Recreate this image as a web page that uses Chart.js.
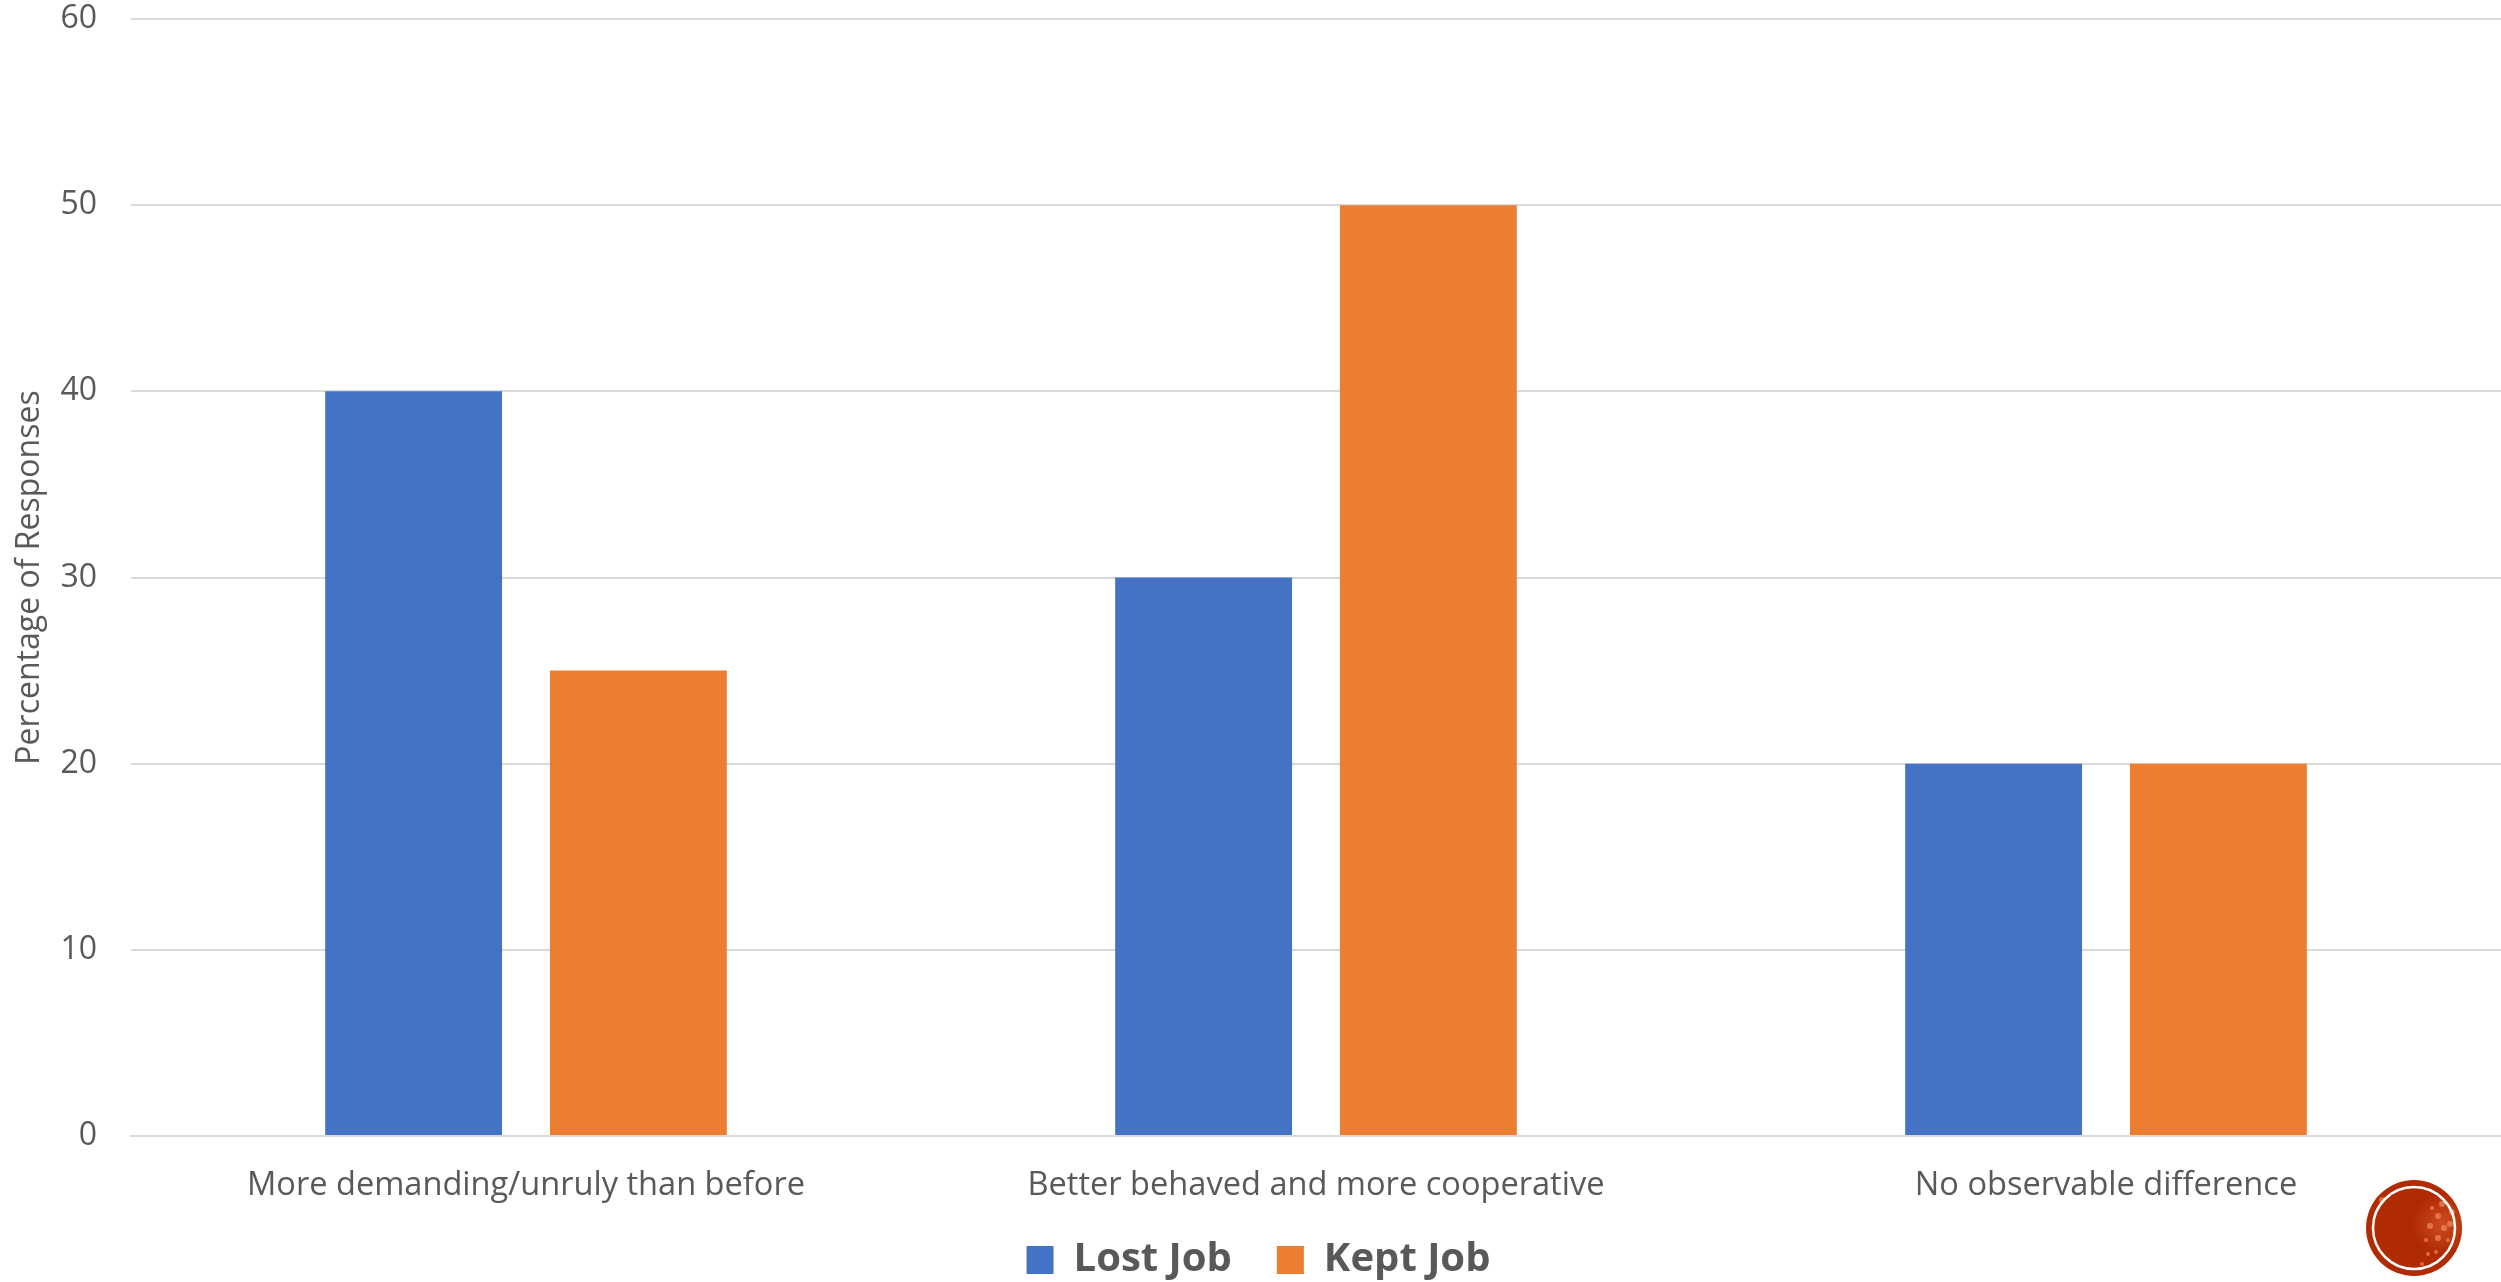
<!DOCTYPE html>
<html>
<head>
<meta charset="utf-8">
<title>Percentage of Responses</title>
<script src="https://cdn.jsdelivr.net/npm/chart.js@4"></script>
<style>
  html, body { margin: 0; padding: 0; background: #fff; }
  canvas { display: block; }
</style>
</head>
<body>
<canvas id="chart" width="2501" height="1282"></canvas>
<script>
// === DATA ===
const categories = [
  'More demanding/unruly than before',
  'Better behaved and more cooperative',
  'No observable difference'
];
const lostJob = [40, 30, 20];
const keptJob = [25, 50, 20];

const BLUE   = '#4472c4';
const ORANGE = '#ed7d31';
const TEXT   = '#595959';
const GRID   = '#d9d9d9';
const FONT   = '"Open Sans", sans-serif';

// Red seal in the lower right corner
const SPECKS = [
  [38, -16, 3], [24, -12, 3], [30, 0, 3], [16, -2, 3], [24, 10, 3], [34, 12, 2], [12, 12, 2],
  [28, -24, 3], [18, -20, 2], [14, 26, 2], [22, 24, 2], [8, 36, 2], [-32, -28, 3], [36, -4, 3]
];
const sealPlugin = {
  id: 'seal',
  afterLayout(chart) {
    // the x axis box is kept short for the legend, so let its labels draw past it
    chart.scales.x.bottom += 30;
    // legend sits a little right of centre
    chart.legend.left += 6;
    chart.legend.right += 6;
  },
  afterDraw(chart) {
    const { ctx } = chart;
    const cx = 2414, cy = 1228;
    ctx.save();
    ctx.beginPath();
    ctx.arc(cx, cy, 48, 0, Math.PI * 2);
    ctx.fillStyle = '#b02a02';
    ctx.fill();
    const glow = ctx.createRadialGradient(cx + 28, cy - 4, 2, cx + 28, cy - 4, 30);
    glow.addColorStop(0, 'rgba(225,100,50,.55)');
    glow.addColorStop(1, 'rgba(225,100,50,0)');
    ctx.fillStyle = glow;
    ctx.fill();
    ctx.fillStyle = 'rgba(245,150,110,.6)';
    SPECKS.forEach(([dx, dy, r]) => {
      ctx.beginPath();
      ctx.arc(cx + dx, cy + dy, r, 0, Math.PI * 2);
      ctx.fill();
    });
    ctx.beginPath();
    ctx.arc(cx, cy, 41, 0, Math.PI * 2);
    ctx.strokeStyle = '#fff';
    ctx.lineWidth = 2.5;
    ctx.stroke();
    ctx.restore();
  }
};

new Chart(document.getElementById('chart').getContext('2d'), {
  type: 'bar',
  data: {
    labels: categories,
    datasets: [
      { label: 'Lost Job', data: lostJob, backgroundColor: BLUE },
      { label: 'Kept Job', data: keptJob, backgroundColor: ORANGE }
    ]
  },
  options: {
    responsive: false,
    animation: false,
    layout: { padding: { top: 19, right: -4, bottom: -8, left: 0 } },
    datasets: { bar: { categoryPercentage: 0.569, barPercentage: 0.787 } },
    plugins: {
      tooltip: { enabled: false },
      legend: {
        position: 'bottom',
        labels: {
          color: TEXT,
          boxWidth: 27,
          boxHeight: 28,
          padding: 45,
          font: { family: FONT, size: 40, weight: '700' }
        }
      }
    },
    scales: {
      x: {
        afterFit(scale) { scale.height = 59; },
        grid: { display: false },
        border: { color: GRID, width: 2 },
        ticks: { color: TEXT, padding: 22, maxRotation: 0, font: { family: FONT, size: 32.6 } }
      },
      y: {
        min: 0,
        max: 60,
        afterFit(scale) {
          scale.width = 131;
          scale.paddingTop = 0;
          scale.paddingBottom = 0;
        },
        border: { display: false },
        grid: { color: GRID, lineWidth: 2, drawTicks: false },
        ticks: { color: TEXT, stepSize: 10, padding: 34, font: { family: FONT, size: 32 } },
        title: {
          display: true,
          text: 'Percentage of Responses',
          color: TEXT,
          padding: { top: 11, bottom: 0 },
          font: { family: FONT, size: 32 }
        }
      }
    }
  },
  plugins: [sealPlugin]
});
</script>
</body>
</html>
